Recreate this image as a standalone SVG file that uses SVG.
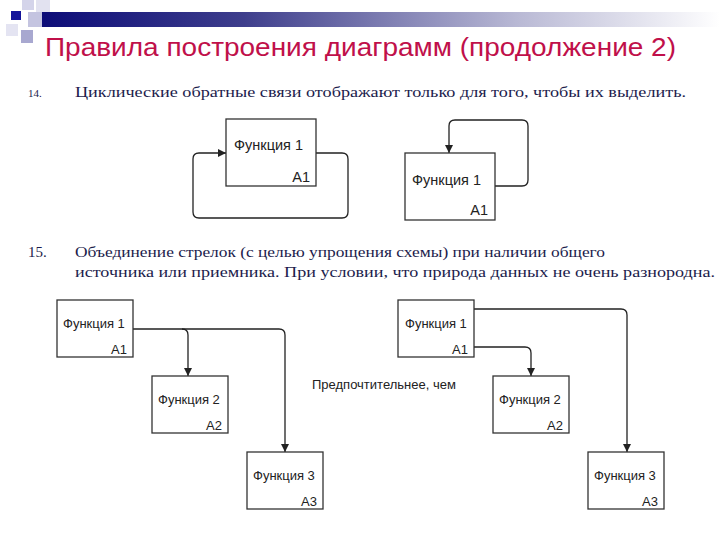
<svg xmlns="http://www.w3.org/2000/svg" width="720" height="540" viewBox="0 0 720 540">
<defs>
<linearGradient id="bar" x1="0" y1="0" x2="1" y2="0">
<stop offset="0" stop-color="#0c0c78"/>
<stop offset="0.3" stop-color="#3e3e8c"/>
<stop offset="0.7" stop-color="#b8b8d4"/>
<stop offset="1" stop-color="#ffffff"/>
</linearGradient>
<marker id="arr" viewBox="0 0 10 10" refX="10" refY="5" markerWidth="8" markerHeight="8" markerUnits="userSpaceOnUse" orient="auto">
<path d="M0,0 L10,5 L0,10 z" fill="#222"/>
</marker>
<style>
.box{fill:#fff;stroke:#333;stroke-width:1.3}
.lbl{font-family:"Liberation Sans",Arial,sans-serif;font-size:14.5px;fill:#222}
.num{font-family:"Liberation Sans",Arial,sans-serif;font-size:14.5px;fill:#222;text-anchor:end}
.slbl{font-family:"Liberation Sans",Arial,sans-serif;font-size:13px;fill:#222}
.snum{font-family:"Liberation Sans",Arial,sans-serif;font-size:13px;fill:#222;text-anchor:end}
.body{font-family:"Liberation Serif","Times New Roman",serif;font-size:15px;fill:#1c1c4c}
.conn{fill:none;stroke:#222;stroke-width:1.3}
</style>
</defs>
<rect width="720" height="540" fill="#fff"/>
<g id="decor">
<rect x="40" y="12" width="680" height="15" fill="url(#bar)"/>
<rect x="22" y="0" width="12" height="10" fill="#d4d4ea"/>
<rect x="36" y="0" width="14" height="12" fill="#e2e2f0"/>
<rect x="28" y="12" width="14" height="15" fill="#c4c4e0"/>
<rect x="11" y="11" width="10" height="9" fill="#14149a"/>
<rect x="21" y="30" width="12" height="13" fill="#a8a8d0"/>
<rect x="6" y="24" width="12" height="12" fill="#e4e4f2"/>
</g>
<text x="45" y="56" font-family="'Liberation Sans',Arial,sans-serif" font-size="26" fill="#c0104a" textLength="631" lengthAdjust="spacingAndGlyphs">Правила построения диаграмм (продолжение 2)</text>
<text x="28" y="97" font-family="'Liberation Serif',serif" font-size="11" fill="#1c1c4c">14.</text>
<text class="body" x="75" y="97" textLength="611" lengthAdjust="spacingAndGlyphs">Циклические обратные связи отображают только для того, чтобы их выделить.</text>
<text x="28" y="257" font-family="'Liberation Serif',serif" font-size="15" fill="#1c1c4c">15.</text>
<text class="body" x="75" y="257" textLength="530" lengthAdjust="spacingAndGlyphs">Объединение стрелок (с целью упрощения схемы) при наличии общего</text>
<text class="body" x="75" y="277" textLength="640" lengthAdjust="spacingAndGlyphs">источника или приемника. При условии, что природа данных не очень разнородна.</text>
<text class="slbl" x="312" y="389">Предпочтительнее, чем</text>

<g id="connectors">
<path class="conn" d="M316,153 H342 Q348,153 348,159 V212 Q348,218 342,218 H199 Q193,218 193,212 V159 Q193,153 199,153 H226" marker-end="url(#arr)"/>
<path class="conn" d="M495,186 H522 Q528,186 528,180 V126 Q528,120 522,120 H455 Q449,120 449,126 V153" marker-end="url(#arr)"/>
<path class="conn" d="M133,329 H279 Q285,329 285,335 V452" marker-end="url(#arr)"/>
<path class="conn" d="M182,329 Q188,329 188,335 V376" marker-end="url(#arr)"/>
<path class="conn" d="M474,309 H621 Q627,309 627,315 V452" marker-end="url(#arr)"/>
<path class="conn" d="M474,347 H525 Q531,347 531,353 V376" marker-end="url(#arr)"/>
</g>

<g id="n14a">
<rect class="box" x="226" y="119" width="90" height="67"/>
<text class="lbl" x="234" y="150">Функция 1</text>
<text class="num" x="310" y="182">A1</text>
</g>
<g id="n14b">
<rect class="box" x="405" y="153" width="90" height="67"/>
<text class="lbl" x="412" y="185">Функция 1</text>
<text class="num" x="488" y="215">A1</text>
</g>

<g id="l1">
<rect class="box" x="57" y="300" width="76" height="57"/>
<text class="slbl" x="63" y="328">Функция 1</text>
<text class="snum" x="127" y="354">A1</text>
</g>
<g id="l2">
<rect class="box" x="152" y="376" width="76" height="57"/>
<text class="slbl" x="158" y="404">Функция 2</text>
<text class="snum" x="222" y="430">A2</text>
</g>
<g id="l3">
<rect class="box" x="247" y="452" width="76" height="57"/>
<text class="slbl" x="253" y="480">Функция 3</text>
<text class="snum" x="317" y="506">A3</text>
</g>

<g id="r1">
<rect class="box" x="398" y="300" width="76" height="57"/>
<text class="slbl" x="405" y="328">Функция 1</text>
<text class="snum" x="468" y="354">A1</text>
</g>
<g id="r2">
<rect class="box" x="493" y="376" width="76" height="57"/>
<text class="slbl" x="499" y="404">Функция 2</text>
<text class="snum" x="563" y="430">A2</text>
</g>
<g id="r3">
<rect class="box" x="588" y="452" width="76" height="57"/>
<text class="slbl" x="594" y="480">Функция 3</text>
<text class="snum" x="658" y="506">A3</text>
</g>
</svg>
